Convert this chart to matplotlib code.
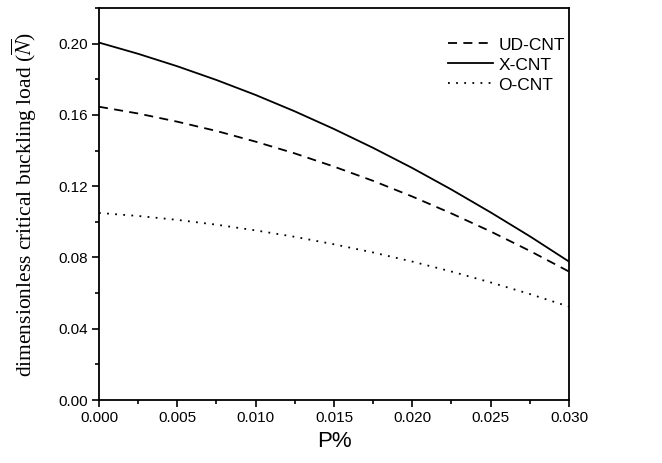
import numpy as np
import matplotlib
matplotlib.use("Agg")
import matplotlib.pyplot as plt
from matplotlib.ticker import MultipleLocator

# values
p = [0.0, 0.0025, 0.005, 0.0075, 0.010, 0.0125, 0.015,
     0.0175, 0.020, 0.0225, 0.025, 0.0275, 0.030]
ud_cnt = [0.1646, 0.1608, 0.1562, 0.1510, 0.1450, 0.1384, 0.1310,
          0.1230, 0.1142, 0.1047, 0.0946, 0.0837, 0.0721]
x_cnt = [0.2006, 0.1943, 0.1873, 0.1796, 0.1712, 0.1620, 0.1521,
         0.1415, 0.1302, 0.1181, 0.1053, 0.0919, 0.0777]
o_cnt = [0.1050, 0.1033, 0.1011, 0.0984, 0.0952, 0.0916, 0.0874,
         0.0828, 0.0777, 0.0721, 0.0660, 0.0595, 0.0524]

plt.rcParams['font.family'] = ['Liberation Sans', 'DejaVu Sans']
plt.rcParams['mathtext.fontset'] = 'stix'

fig = plt.figure(figsize=(6.62, 4.63), dpi=100)
ax = fig.add_axes([0.1495, 0.136, 0.71, 0.8467])

ax.plot(p, ud_cnt, color='black', lw=1.3, linestyle=(0, (5, 3.5)), label='UD-CNT')
ax.plot(p, x_cnt, color='black', lw=1.3, linestyle='-', label='X-CNT')
ax.plot(p, o_cnt, color='black', lw=1.3, linestyle=(0, (1, 3.5)), label='O-CNT')

ax.set_xlim(0, 0.03)
ax.set_ylim(0, 0.22)
ax.xaxis.set_major_locator(MultipleLocator(0.005))
ax.xaxis.set_minor_locator(MultipleLocator(0.0025))
ax.yaxis.set_major_locator(MultipleLocator(0.04))
ax.yaxis.set_minor_locator(MultipleLocator(0.02))
ax.xaxis.set_major_formatter(plt.FormatStrFormatter('%.3f'))
ax.yaxis.set_major_formatter(plt.FormatStrFormatter('%.2f'))
ax.tick_params(which='both', direction='out', top=False, right=False,
               labelsize=11, width=1.2)
ax.tick_params(which='major', length=5, pad=3)
ax.tick_params(which='minor', length=3)
for s in ax.spines.values():
    s.set_linewidth(1.3)

ax.set_xlabel('P%', fontsize=16, labelpad=4)
ax.set_ylabel(r'dimensionless critical buckling load ($\overline{N}$)',
              fontsize=15.5, family='Liberation Serif', labelpad=14)

ax.legend(loc='upper right', bbox_to_anchor=(1.025, 0.965), frameon=False,
          fontsize=12.5, handlelength=2.6, handletextpad=0.3, labelspacing=0.28)

fig.savefig('out.png', dpi=100)
